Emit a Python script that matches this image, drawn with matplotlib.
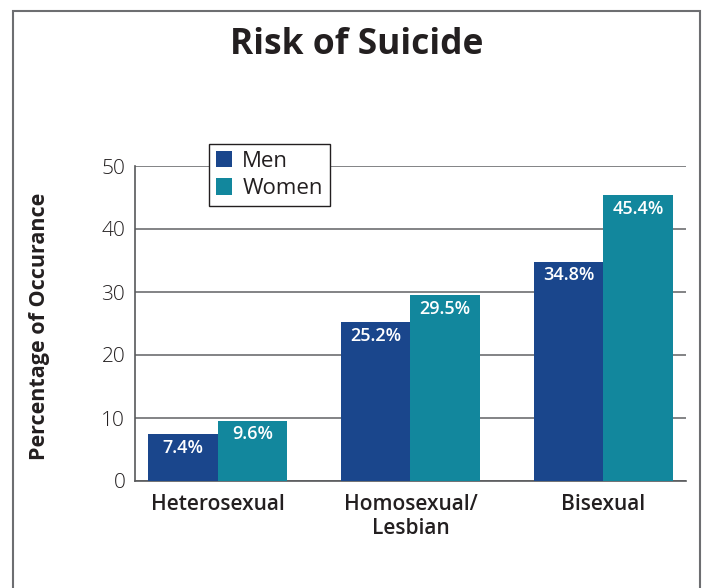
import matplotlib
matplotlib.use("Agg")
import matplotlib.pyplot as plt
import numpy as np
from matplotlib.patches import Rectangle, Patch

categories = ["Heterosexual", "Homosexual/\nLesbian", "Bisexual"]
men = [7.4, 25.2, 34.8]
women = [9.6, 29.5, 45.4]
series_names = ["Men", "Women"]
yticks = [0, 10, 20, 30, 40, 50]

men_color = "#1a468c"
women_color = "#12879d"
text_color = "#231f20"

plt.rcParams['font.family'] = ['Open Sans', 'DejaVu Sans']

W, H = 702, 588
fig = plt.figure(figsize=(W/100, H/100), dpi=100)

# outer frame
fig.add_artist(Rectangle((13/W, -0.05), (700-13)/W, 1.05 - 11/H, transform=fig.transFigure,
                         fill=False, edgecolor="#6d6e71", linewidth=1.5))

ax = fig.add_axes([135/W, 1-481/H, (686-135)/W, (481-166)/H])
x = np.arange(len(categories))
bw = 0.36
b1 = ax.bar(x - bw/2, men, bw, color=men_color, zorder=3)
b2 = ax.bar(x + bw/2, women, bw, color=women_color, zorder=3)

for bars, vals in ((b1, men), (b2, women)):
    for r, v in zip(bars, vals):
        ax.text(r.get_x() + r.get_width()/2, v - 0.75, f"{v}%", ha="center", va="top",
                color="white", fontsize=13, fontweight="semibold", zorder=4)

ax.set_xlim(-0.43, 2.43)
ax.set_ylim(0, 50)
ax.set_yticks(yticks)
ax.set_yticklabels([str(t) for t in yticks], fontsize=15, fontweight=300, color=text_color)
ax.yaxis.grid(True, color="#6d6e71", linewidth=1.2, zorder=0)
ax.set_axisbelow(True)
for s in ("top", "right"):
    ax.spines[s].set_visible(False)
ax.spines["left"].set_color("#58595b")
ax.spines["bottom"].set_color("#58595b")
ax.spines["left"].set_linewidth(1.2)
ax.spines["bottom"].set_linewidth(1.2)
ax.tick_params(axis="y", length=0, pad=7)
ax.tick_params(axis="x", length=0, pad=9)
ax.set_xticks(x)
ax.set_xticklabels(categories, fontsize=15, fontweight="semibold", color=text_color,
                   linespacing=1.2)
ax.set_ylabel("Percentage of Occurance", fontsize=15.5, fontweight="bold", color=text_color)
ax.yaxis.set_label_coords((50-135)/551, 0.49)

fig.text(357/W, 1-45/H, "Risk of Suicide", ha="center", va="center",
         fontsize=25.5, fontweight="bold", color=text_color)

handles = [Patch(facecolor=men_color, label=series_names[0]),
           Patch(facecolor=women_color, label=series_names[1])]
leg = fig.legend(handles=handles, loc="upper left", bbox_to_anchor=(209/W, 1-144/H),
                 borderaxespad=0, fontsize=16, frameon=True, fancybox=False, handlelength=0.75,
                 handleheight=0.75, handletextpad=0.45, borderpad=0.3, labelspacing=0.3)
leg.get_frame().set_edgecolor("#231f20")
leg.get_frame().set_linewidth(1.0)
leg.get_frame().set_alpha(1)
for t in leg.get_texts():
    t.set_color(text_color)

fig.savefig("out.png", dpi=100)
